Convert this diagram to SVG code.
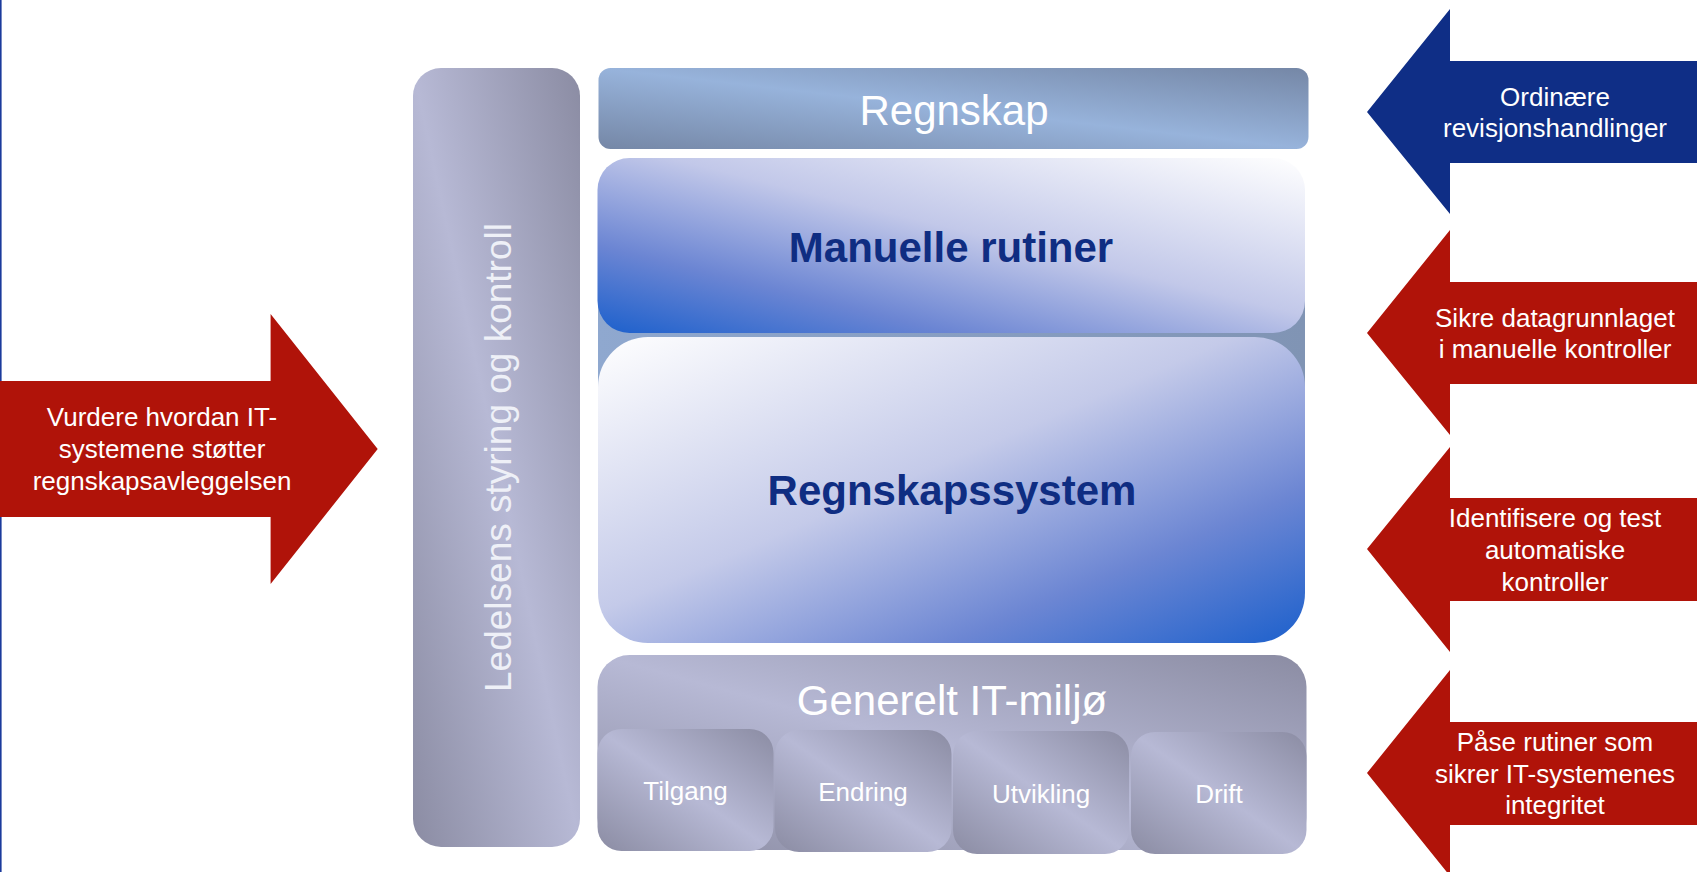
<svg xmlns="http://www.w3.org/2000/svg" width="1697" height="872" viewBox="0 0 1697 872">
  <defs>
    <!-- grey-lavender panels: dark at bottom-left and top-right, light along the other diagonal -->
    <linearGradient id="gLav" x1="0" y1="1" x2="1" y2="0">
      <stop offset="0" stop-color="#8b8ca3"/>
      <stop offset="0.5" stop-color="#b7b9d5"/>
      <stop offset="1" stop-color="#8b8ca3"/>
    </linearGradient>
    <linearGradient id="gRegnskap" x1="0" y1="1" x2="1" y2="0">
      <stop offset="0" stop-color="#7587a6"/>
      <stop offset="0.5" stop-color="#97b3db"/>
      <stop offset="1" stop-color="#7587a6"/>
    </linearGradient>
    <linearGradient id="gBack" x1="0" y1="0" x2="1" y2="0">
      <stop offset="0" stop-color="#8fa8cf"/>
      <stop offset="1" stop-color="#8094b4"/>
    </linearGradient>
    <!-- blue to white sheen -->
    <linearGradient id="gManuell" x1="0" y1="1" x2="1" y2="0">
      <stop offset="0" stop-color="#1c60cc"/>
      <stop offset="0.25" stop-color="#6b85d3"/>
      <stop offset="0.55" stop-color="#c2c8e9"/>
      <stop offset="1" stop-color="#ffffff"/>
    </linearGradient>
    <linearGradient id="gSystem" x1="0" y1="0" x2="1" y2="1">
      <stop offset="0" stop-color="#ffffff"/>
      <stop offset="0.45" stop-color="#c4cae9"/>
      <stop offset="0.75" stop-color="#6c86d3"/>
      <stop offset="1" stop-color="#1c60cc"/>
    </linearGradient>
    <style>
      .txt { font-family: "Liberation Sans", Arial, sans-serif; }
      .white { fill: #ffffff; }
      .arrowTxt { font-size: 26px; fill: #ffffff; text-anchor: middle; }
      .big { font-size: 42px; text-anchor: middle; }
      .bold { font-weight: bold; fill: #0f2d82; }
      .sub { font-size: 26px; fill: #ffffff; text-anchor: middle; }
      .red { fill: #b01309; }
      .navy { fill: #0f2e86; }
    </style>
  </defs>

  <rect width="1697" height="872" fill="#ffffff"/>
  <!-- thin rule along the left edge -->
  <rect x="0" y="0" width="1.6" height="872" fill="#1b3a9c"/>

  <!-- left block arrow -->
  <g id="arrow-vurdere">
    <polygon class="red" points="0,381 270.6,381 270.6,314 377.7,449 270.6,584 270.6,517 0,517"/>
    <text class="txt arrowTxt" x="162" y="426">Vurdere hvordan IT-</text>
    <text class="txt arrowTxt" x="162" y="458">systemene støtter</text>
    <text class="txt arrowTxt" x="162" y="490">regnskapsavleggelsen</text>
  </g>

  <!-- vertical management column -->
  <g id="ledelsen">
    <rect x="413" y="68" width="167" height="779" rx="28" fill="url(#gLav)"/>
    <text class="txt" transform="translate(511,457.5) rotate(-90)" text-anchor="middle" font-size="37" fill="#eef0f7">Ledelsens styring og kontroll</text>
  </g>

  <!-- central stack -->
  <g id="regnskap">
    <rect x="598.5" y="68" width="710" height="81" rx="12" fill="url(#gRegnskap)"/>
    <text class="txt big white" x="954" y="125">Regnskap</text>
  </g>

  <g id="system-backing">
    <rect x="598" y="230" width="707" height="360" fill="url(#gBack)"/>
  </g>

  <g id="manuelle-rutiner">
    <rect x="597.5" y="158" width="707.5" height="175" rx="32" fill="url(#gManuell)"/>
    <text class="txt big bold" x="951" y="262">Manuelle rutiner</text>
  </g>

  <g id="regnskapssystem">
    <rect x="598" y="337" width="707" height="306" rx="50" fill="url(#gSystem)"/>
    <text class="txt big bold" x="952" y="505">Regnskapssystem</text>
  </g>

  <g id="generelt-it-miljo">
    <rect x="597.5" y="655" width="709" height="195" rx="32" fill="url(#gLav)"/>
    <text class="txt big white" x="952" y="715">Generelt IT-miljø</text>
  </g>

  <g id="tilgang">
    <rect x="597.5" y="729" width="176" height="122" rx="24" fill="url(#gLav)"/>
    <text class="txt sub" x="685.5" y="800">Tilgang</text>
  </g>
  <g id="endring">
    <rect x="775" y="730" width="176.5" height="122" rx="24" fill="url(#gLav)"/>
    <text class="txt sub" x="863" y="801">Endring</text>
  </g>
  <g id="utvikling">
    <rect x="953" y="731" width="176" height="123" rx="24" fill="url(#gLav)"/>
    <text class="txt sub" x="1041" y="803">Utvikling</text>
  </g>
  <g id="drift">
    <rect x="1131" y="732" width="175.5" height="122" rx="24" fill="url(#gLav)"/>
    <text class="txt sub" x="1219" y="803">Drift</text>
  </g>

  <!-- right block arrows -->
  <g id="arrow-ordinaere">
    <polygon class="navy" points="1367,112 1450,9 1450,61 1697,61 1697,163 1450,163 1450,214"/>
    <text class="txt arrowTxt" x="1555" y="106">Ordinære</text>
    <text class="txt arrowTxt" x="1555" y="137">revisjonshandlinger</text>
  </g>
  <g id="arrow-sikre">
    <polygon class="red" points="1367,333 1450,230 1450,282 1697,282 1697,384 1450,384 1450,435"/>
    <text class="txt arrowTxt" x="1555" y="327">Sikre datagrunnlaget</text>
    <text class="txt arrowTxt" x="1555" y="358">i manuelle kontroller</text>
  </g>
  <g id="arrow-identifisere">
    <polygon class="red" points="1367,549 1450,447 1450,498 1697,498 1697,601 1450,601 1450,652"/>
    <text class="txt arrowTxt" x="1555" y="527">Identifisere og test</text>
    <text class="txt arrowTxt" x="1555" y="559">automatiske</text>
    <text class="txt arrowTxt" x="1555" y="591">kontroller</text>
  </g>
  <g id="arrow-pase">
    <polygon class="red" points="1367,773 1450,670 1450,722 1697,722 1697,825 1450,825 1450,876"/>
    <text class="txt arrowTxt" x="1555" y="751">Påse rutiner som</text>
    <text class="txt arrowTxt" x="1555" y="782.5">sikrer IT-systemenes</text>
    <text class="txt arrowTxt" x="1555" y="814">integritet</text>
  </g>

  <!-- no line connectors in this figure; block arrows carry the relations -->
  <g id="connectors"/>
</svg>
